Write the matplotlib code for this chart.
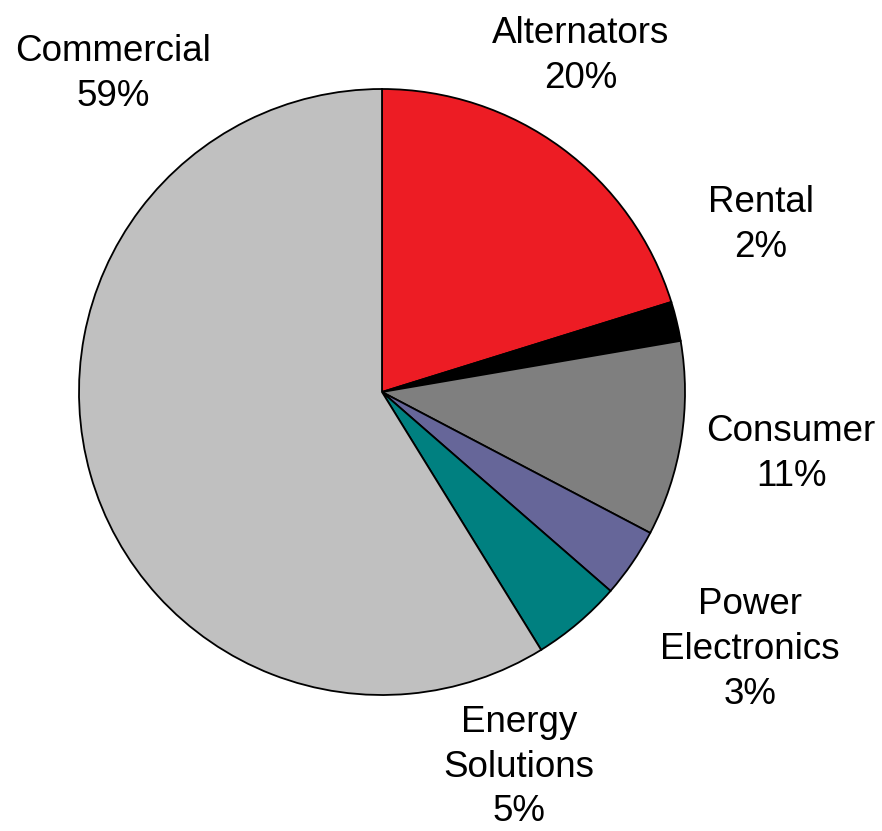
import matplotlib.pyplot as plt

plt.rcParams["font.family"] = ["Liberation Sans", "DejaVu Sans"]

# slices, clockwise from 12 o'clock
segments = ["Alternators", "Rental", "Consumer", "Power\nElectronics",
            "Energy\nSolutions", "Commercial"]
shares = [20.2, 2.1, 10.4, 3.7, 4.8, 58.8]
pct_labels = ["20%", "2%", "11%", "3%", "5%", "59%"]
colors = ["#ED1C24", "#000000", "#7F7F7F", "#666699", "#008080", "#C0C0C0"]

# label centres in axes data units (pie radius = 1)
label_pos = [(0.655, 1.11), (1.25, 0.55), (1.35, -0.205),
             (1.215, -0.85), (0.452, -1.238), (-0.886, 1.05)]

W, H = 882, 831
cx, cy, r = 382, 392, 303
fig = plt.figure(figsize=(W / 100, H / 100), dpi=100)
ax = fig.add_axes([(cx - r) / W, (H - cy - r) / H, 2 * r / W, 2 * r / H])

ax.pie(shares, colors=colors, startangle=90, counterclock=False, radius=1,
       wedgeprops=dict(edgecolor="black", linewidth=1.3))
ax.set_xlim(-1, 1)
ax.set_ylim(-1, 1)
ax.set_aspect("equal")
ax.axis("off")

for name, pct, (x, y) in zip(segments, pct_labels, label_pos):
    ax.text(x, y, name + "\n" + pct, ha="center", va="center",
            fontsize=26.5, linespacing=1.36, clip_on=False)

fig.savefig("out.png", dpi=100)
